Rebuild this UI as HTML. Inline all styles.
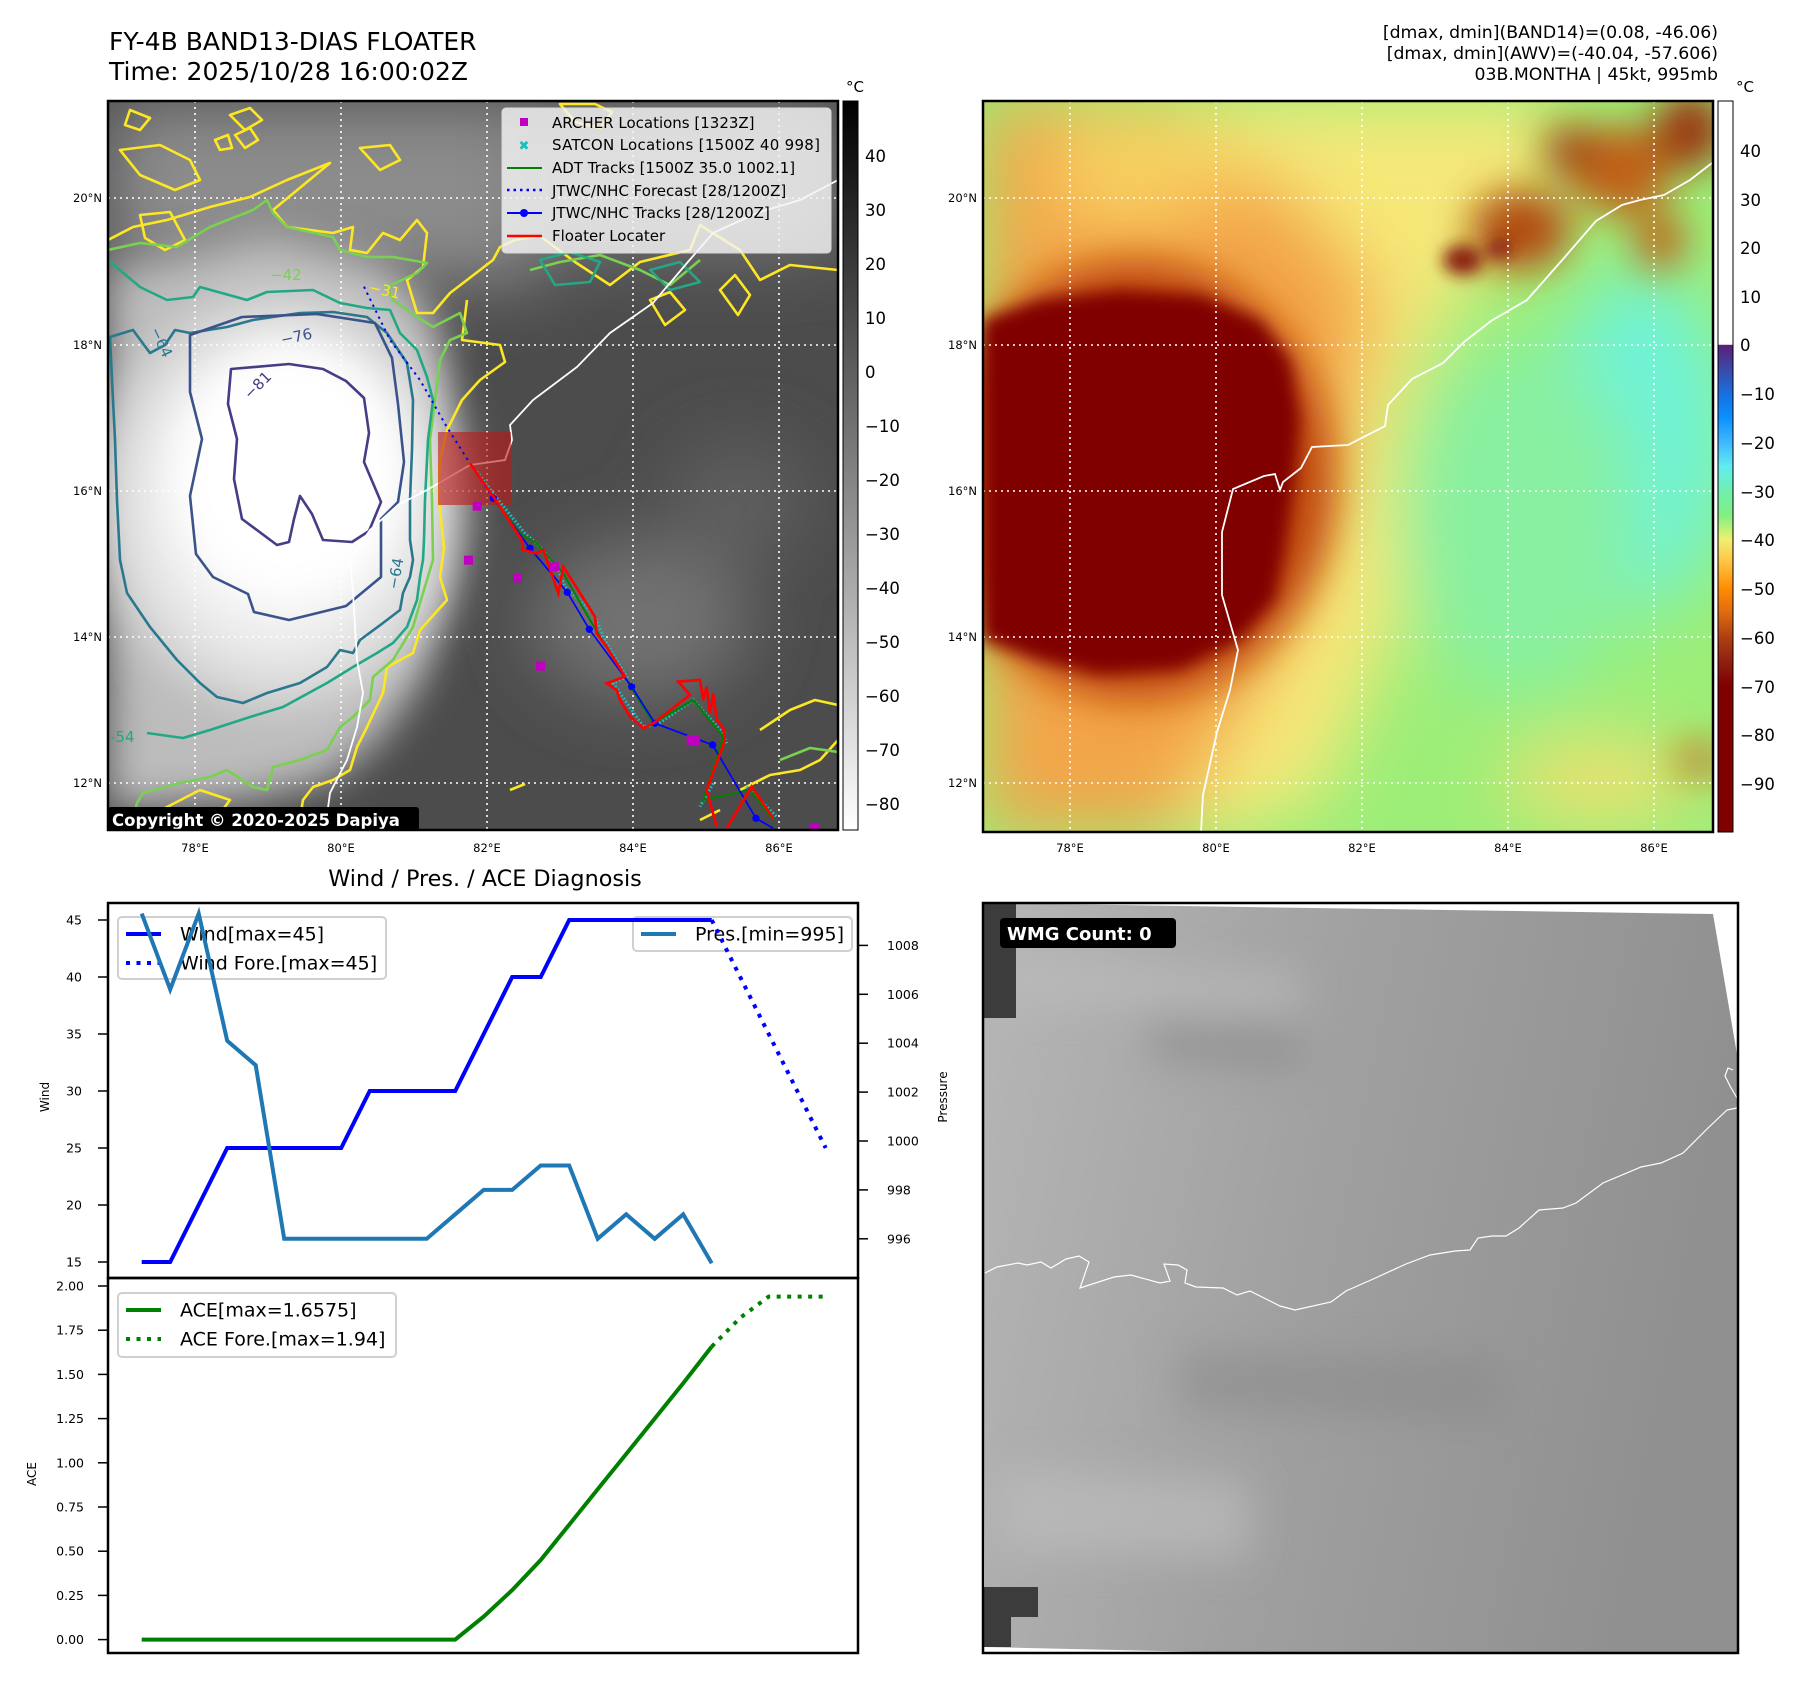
<!DOCTYPE html>
<html><head><meta charset="utf-8"><title>FY-4B BAND13 Floater</title>
<style>
html,body{margin:0;padding:0;background:#fff;}
svg{display:block;font-family:"DejaVu Sans","Liberation Sans",sans-serif;}
</style></head>
<body>
<svg id="fig" width="1801" height="1690" viewBox="0 0 1801 1690" xmlns="http://www.w3.org/2000/svg">
<defs>
  <filter id="b8" x="-20%" y="-20%" width="140%" height="140%"><feGaussianBlur stdDeviation="8"/></filter>
  <filter id="b20" x="-30%" y="-30%" width="160%" height="160%"><feGaussianBlur stdDeviation="20"/></filter>
  <filter id="b35" x="-40%" y="-40%" width="180%" height="180%"><feGaussianBlur stdDeviation="35"/></filter>
  <clipPath id="c1"><rect x="108" y="101" width="730" height="729"/></clipPath>
  <clipPath id="c2"><rect x="983" y="101" width="730" height="731"/></clipPath>
  <clipPath id="c3"><rect x="983" y="903" width="755" height="750"/></clipPath>
  <linearGradient id="cb1" x1="0" y1="1" x2="0" y2="0">
    <stop offset="0" stop-color="#ffffff"/><stop offset="1" stop-color="#000000"/>
  </linearGradient>
  <linearGradient id="cb2" x1="0" y1="0" x2="0" y2="1">
    <stop offset="0" stop-color="#ffffff"/><stop offset="0.333" stop-color="#ffffff"/>
    <stop offset="0.334" stop-color="#5a1e78"/>
    <stop offset="0.367" stop-color="#3a4aa8"/>
    <stop offset="0.400" stop-color="#1a6ee0"/>
    <stop offset="0.433" stop-color="#0a90ff"/>
    <stop offset="0.467" stop-color="#40b8ff"/>
    <stop offset="0.500" stop-color="#60ecf0"/>
    <stop offset="0.533" stop-color="#70f0b0"/>
    <stop offset="0.567" stop-color="#80f080"/>
    <stop offset="0.600" stop-color="#f0f070"/>
    <stop offset="0.633" stop-color="#ffc040"/>
    <stop offset="0.667" stop-color="#ff8c00"/>
    <stop offset="0.700" stop-color="#e06a10"/>
    <stop offset="0.733" stop-color="#b04010"/>
    <stop offset="0.767" stop-color="#902010"/>
    <stop offset="0.800" stop-color="#800000"/>
    <stop offset="1" stop-color="#800000"/>
  </linearGradient>
  <radialGradient id="cold" cx="0.5" cy="0.5" r="0.5">
    <stop offset="0" stop-color="#ffffff"/><stop offset="0.55" stop-color="#f2f2f2"/><stop offset="0.85" stop-color="#d8d8d8"/><stop offset="1" stop-color="#c0c0c0" stop-opacity="0"/>
  </radialGradient>
  <linearGradient id="g3" x1="0" y1="0" x2="1" y2="0.2">
    <stop offset="0" stop-color="#b6b6b6"/><stop offset="0.5" stop-color="#a0a0a0"/><stop offset="1" stop-color="#909090"/>
  </linearGradient>
</defs>

<!-- Titles -->
<text x="109" y="50" font-size="25">FY-4B BAND13-DIAS FLOATER</text>
<text x="109" y="80" font-size="25">Time: 2025/10/28 16:00:02Z</text>
<g font-size="17.3" text-anchor="end">
  <text x="1718" y="38">[dmax, dmin](BAND14)=(0.08, -46.06)</text>
  <text x="1718" y="59">[dmax, dmin](AWV)=(-40.04, -57.606)</text>
  <text x="1718" y="80">03B.MONTHA | 45kt, 995mb</text>
</g>

<!-- ============ MAP 1: IR grayscale ============ -->
<g>
<g clip-path="url(#c1)">
  <rect x="108" y="101" width="730" height="729" fill="#4c4c4c"/>
  <g filter="url(#b35)">
    <rect x="108" y="101" width="440" height="180" fill="#8c8c8c"/>
    <rect x="520" y="101" width="318" height="150" fill="#7a7a7a"/>
    <ellipse cx="640" cy="620" rx="110" ry="80" fill="#727272"/>
    <ellipse cx="740" cy="500" rx="70" ry="60" fill="#5e5e5e"/>
  </g>
  <path filter="url(#b20)" fill="#bcbcbc" d="M108,270 L210,250 L267,235 L333,250 L393,270 L430,310 L445,360 L440,430 L438,500 L440,600 L420,680 L380,740 L330,780 L250,800 L108,810 Z"/>
  <ellipse filter="url(#b20)" cx="280" cy="500" rx="200" ry="230" fill="url(#cold)"/>
  <ellipse filter="url(#b20)" cx="290" cy="470" rx="115" ry="125" fill="#ffffff"/>
  <!-- grid -->
  <g stroke="#fff" stroke-width="1.6" stroke-dasharray="2,4">
    <line x1="195" y1="101" x2="195" y2="830"/><line x1="341" y1="101" x2="341" y2="830"/>
    <line x1="487" y1="101" x2="487" y2="830"/><line x1="633" y1="101" x2="633" y2="830"/>
    <line x1="779" y1="101" x2="779" y2="830"/>
    <line x1="108" y1="198" x2="838" y2="198"/><line x1="108" y1="345" x2="838" y2="345"/>
    <line x1="108" y1="491" x2="838" y2="491"/><line x1="108" y1="637" x2="838" y2="637"/>
    <line x1="108" y1="783" x2="838" y2="783"/>
  </g>
  <!-- contours -->
  <g fill="none" stroke-width="2.6" stroke-linejoin="round">
    <path stroke="#fde725" d="M108,240 L133,227 L167,220 L210,207 L250,197 L287,180 L330,163 L273,210 L287,227 L333,233 L353,227 L350,250 L367,253 L383,233 L400,240 L417,220 L427,233 L423,267 L407,280 L417,313 L433,313 L450,293 L467,280 L493,260 L500,247 L515,240 L540,236 L575,262 L610,285 L640,262 L690,250 L700,225 L740,250 L760,280 L790,265 L838,270"/>
    <path stroke="#fde725" d="M467,300 L462,340 L500,345 L505,362 L480,380 L462,400 L447,430 L440,460 L438,490 L444,548 L440,577 L447,600 L420,630 L413,653 L387,667 L383,693 L367,727 L357,747 L350,770 L333,780 L313,787 L303,800 L298,830"/>
    <path stroke="#fde725" d="M130,110 L150,118 L140,130 L125,125 Z M230,115 L250,108 L262,120 L245,130 Z M560,104 L575,122 L600,128 L612,112 L595,104 Z M720,290 L735,275 L750,295 L738,315 Z M650,300 L670,292 L685,310 L665,325 Z M215,140 L228,135 L232,148 L220,150 Z M120,150 L160,145 L190,160 L200,180 L175,190 L140,175 Z M140,215 L170,212 L185,240 L165,250 L145,238 Z M235,135 L250,128 L258,140 L245,148 Z M360,148 L390,145 L400,160 L380,170 Z"/>
    <path stroke="#fde725" d="M740,790 L770,775 L800,770 L820,760 L838,740 M760,730 L790,710 L815,700 L838,705 M700,820 L720,810 M510,790 L525,784 M165,808 L200,790 L230,800 L215,820"/>
    <path stroke="#7ad151" d="M108,250 L140,243 L177,247 L210,227 L253,210 L267,200 L273,213 L287,227 L333,237 L340,250 L367,257 L393,257 L427,263 L417,273 L387,287 L393,300 L417,317 L433,327 L460,313 L467,333 L450,340 L440,360 L435,400 L430,440 L432,500 L433,560 L423,593 L413,627 L393,660 L373,677 L370,700 L353,717 L340,727 L327,750 L300,760 L273,767 L267,790 L253,787 L227,770 L210,777 L180,783 L143,793 L137,803 L130,830"/>
    <path stroke="#7ad151" d="M530,270 L560,262 L600,255 L640,270 L670,285 L700,260 M780,760 L810,748 L838,752"/>
    <path stroke="#22a884" d="M108,260 L140,287 L167,300 L193,297 L200,287 L247,300 L267,292 L313,290 L340,303 L367,308 L390,310 L400,333 L417,350 L427,377 L433,400 L428,440 L425,500 L424,540 L423,560 L420,577 L417,600 L407,627 L393,643 L377,653 L353,667 L327,683 L283,707 L250,717 L210,730 L183,738 L147,733"/>
    <path stroke="#22a884" d="M540,260 L570,252 L600,262 L590,282 L555,285 Z M650,270 L680,262 L700,282 L670,290 Z"/>
    <path stroke="#2a788e" d="M110,337 L133,330 L150,353 L165,345 L175,330 L190,333 L227,327 L253,320 L300,313 L333,312 L367,317 L387,333 L407,363 L413,400 L412,450 L410,500 L410,540 L413,560 L410,577 L403,593 L400,610 L383,623 L360,640 L353,653 L340,650 L327,667 L300,683 L267,693 L243,703 L217,697 L200,683 L177,660 L150,627 L127,593 L120,560 L117,500 L115,440 L112,380 Z"/>
    <path stroke="#3b528b" d="M190,335 L242,317 L317,314 L375,323 L392,358 L398,404 L404,462 L398,502 L381,519 L381,577 L346,606 L289,620 L254,612 L248,594 L213,577 L196,554 L190,496 L202,439 L190,392 Z"/>
    <path stroke="#433e85" d="M231,369 L289,364 L323,369 L346,381 L364,398 L369,433 L364,462 L381,502 L369,531 L352,542 L323,540 L312,514 L300,496 L294,519 L289,542 L277,545 L242,519 L234,479 L237,439 L228,404 Z"/>
  </g>
  <g font-size="15">
    <text x="368" y="292" fill="#fde725" transform="rotate(12 368 292)">−31</text>
    <text x="270" y="280" fill="#7ad151">−42</text>
    <text x="110" y="742" fill="#22a884">-54</text>
    <text x="150" y="330" fill="#2a788e" transform="rotate(65 150 330)">−64</text>
    <text x="398" y="590" fill="#2a788e" transform="rotate(-80 398 590)">−64</text>
    <text x="282" y="345" fill="#3b528b" transform="rotate(-12 282 345)">−76</text>
    <text x="250" y="400" fill="#433e85" transform="rotate(-45 250 400)">−81</text>
  </g>
  <!-- coastline -->
  <path fill="none" stroke="#fff" stroke-width="1.8" d="M325,830 L330,793 L347,760 L357,727 L363,693 L357,660 L353,593 L350,560 L370,530 L398,505 L427,490 L470,465 L505,460 L512,440 L510,425 L533,400 L577,367 L610,333 L653,303 L687,263 L713,233 L757,213 L800,200 L838,180"/>
  <!-- floater box -->
  <rect x="438" y="432" width="73" height="73" fill="#c01818" fill-opacity="0.6"/>
  <!-- tracks in zoomed coords -->
  <g transform="translate(440,400) scale(0.3333)">
    <path fill="none" stroke="#17c0c0" stroke-width="9" stroke-dasharray="5,6" d="M110,215 L175,300 L255,400 L300,440 L350,500 L375,560 L460,640 L500,730 L560,830 L520,850 L610,980 L650,975 L760,900 L850,1000 L860,1030 M820,1150 L780,1220 M920,1160 L1010,1250"/>
    <path fill="none" stroke="#008000" stroke-width="6" d="M160,295 L240,400 L290,430 L370,520 L450,660 L560,840 L640,970 L760,900 L850,1010 L790,1200 L930,1170 L1000,1260"/>
    <path fill="none" stroke="#0000ff" stroke-width="6" stroke-dasharray="7,13" d="M-228,-340 L-150,-180 L-60,-60 L20,80 L90,190 L160,295"/>
    <path fill="none" stroke="#0000ff" stroke-width="5" d="M160,295 L270,445 L382,577 L448,688 L575,860 L645,970 L818,1035 L948,1255 L1000,1285"/>
    <g fill="#0000ff">
      <circle cx="160" cy="295" r="11"/><circle cx="270" cy="445" r="11"/><circle cx="382" cy="577" r="11"/><circle cx="448" cy="688" r="11"/><circle cx="575" cy="860" r="11"/><circle cx="645" cy="970" r="11"/><circle cx="818" cy="1035" r="11"/><circle cx="948" cy="1255" r="11"/>
    </g>
    <path fill="none" stroke="#ff0000" stroke-width="8" stroke-linejoin="miter" d="M90,190 L160,290 L245,420 L250,450 L290,460 L310,450 L355,580 L370,500 L465,650 L470,700 L500,740 L555,830 L500,850 L530,870 L540,900 L570,950 L610,985 L640,970 L750,885 L715,845 L780,840 L790,900 L800,860 L810,940 L820,880 L830,960 L850,985 L855,1020 L800,1170 L830,1280 M860,1285 L935,1160 L1000,1255"/>
    <g fill="#c000c0">
      <rect x="98" y="305" width="27" height="27"/><rect x="72" y="467" width="27" height="27"/><rect x="219" y="520" width="27" height="27"/><rect x="330" y="487" width="27" height="27"/><rect x="288" y="785" width="27" height="27"/><rect x="740" y="1005" width="40" height="32"/><rect x="1110" y="1272" width="27" height="20"/>
    </g>
  </g>
  <!-- legend -->
  <g>
    <rect x="502" y="108" width="329" height="145" rx="4" fill="#f4f4f4" fill-opacity="0.82" stroke="#d8d8d8"/>
    <rect x="520" y="118" width="8" height="8" fill="#c000c0"/>
    <text x="524" y="150" font-size="13" font-weight="bold" fill="#17c0c0" text-anchor="middle">✖</text>
    <line x1="507" y1="168" x2="542" y2="168" stroke="#008000" stroke-width="2"/>
    <line x1="507" y1="190" x2="542" y2="190" stroke="#0000ff" stroke-width="2.5" stroke-dasharray="2.5,4"/>
    <line x1="507" y1="213" x2="542" y2="213" stroke="#0000ff" stroke-width="2"/><circle cx="524" cy="213" r="4" fill="#0000ff"/>
    <line x1="507" y1="236" x2="542" y2="236" stroke="#ff0000" stroke-width="2.5"/>
    <g font-size="15" fill="#000">
      <text x="552" y="128">ARCHER Locations [1323Z]</text>
      <text x="552" y="150" textLength="268">SATCON Locations [1500Z 40 998]</text>
      <text x="552" y="173">ADT Tracks [1500Z 35.0 1002.1]</text>
      <text x="552" y="196">JTWC/NHC Forecast [28/1200Z]</text>
      <text x="552" y="218">JTWC/NHC Tracks [28/1200Z]</text>
      <text x="552" y="241">Floater Locater</text>
    </g>
  </g>
  <g>
    <rect x="108" y="807" width="311" height="26" rx="3" fill="#000"/>
    <text x="112" y="826" font-size="16.5" font-weight="bold" fill="#fff">Copyright © 2020-2025 Dapiya</text>
  </g>
</g>
<rect x="108" y="101" width="730" height="729" fill="none" stroke="#000" stroke-width="2.5"/>
</g>
<g font-size="11.5">
  <g text-anchor="middle">
    <text x="195" y="852">78°E</text><text x="341" y="852">80°E</text><text x="487" y="852">82°E</text><text x="633" y="852">84°E</text><text x="779" y="852">86°E</text>
  </g>
  <g text-anchor="end">
    <text x="102" y="202">20°N</text><text x="102" y="349">18°N</text><text x="102" y="495">16°N</text><text x="102" y="641">14°N</text><text x="102" y="787">12°N</text>
  </g>
</g>
<!-- colorbar 1 -->
<g>
  <rect x="843" y="101" width="15" height="729" fill="url(#cb1)" stroke="#000" stroke-width="1"/>
  <text x="855" y="92" font-size="15" text-anchor="middle">°C</text>
  <g font-size="16.5">
    <text x="865" y="162">40</text><text x="865" y="216">30</text><text x="865" y="270">20</text><text x="865" y="324">10</text><text x="865" y="378">0</text>
    <text x="865" y="432">−10</text><text x="865" y="486">−20</text><text x="865" y="540">−30</text><text x="865" y="594">−40</text><text x="865" y="648">−50</text>
    <text x="865" y="702">−60</text><text x="865" y="756">−70</text><text x="865" y="810">−80</text>
  </g>
</g>

<!-- ============ MAP 2: AWV colour ============ -->
<g>
<g clip-path="url(#c2)">
  <rect x="983" y="101" width="730" height="731" fill="#9cee78"/>
  <g filter="url(#b35)">
    <ellipse cx="1640" cy="440" rx="90" ry="170" fill="#6ef3d8"/>
    <ellipse cx="1520" cy="520" rx="120" ry="180" fill="#88f0a0"/>
    <path fill="#f6e878" d="M983,101 L1560,101 L1560,200 L1470,280 L1420,360 L1390,470 L1400,620 L1320,800 L1230,832 L983,832 Z"/>
    <path fill="#f3a548" d="M983,101 L1180,101 L1300,200 L1380,290 L1360,380 L1330,480 L1300,600 L1240,720 L1170,832 L983,832 Z"/>
    <path fill="#f8d060" d="M1060,120 L1200,110 L1260,170 L1150,230 L1050,210 Z"/>
    <ellipse cx="1600" cy="780" rx="100" ry="40" fill="#f0e070"/>
  </g>
  <g filter="url(#b20)">
    <ellipse cx="1135" cy="480" rx="200" ry="220" fill="#c04a10"/>
    <ellipse cx="1520" cy="230" rx="50" ry="40" fill="#b04a10"/>
    <ellipse cx="1620" cy="170" rx="50" ry="45" fill="#c06018"/>
    <ellipse cx="1690" cy="130" rx="35" ry="40" fill="#9a3010"/>
    <ellipse cx="1570" cy="150" rx="25" ry="25" fill="#a03810"/>
    <ellipse cx="1660" cy="240" rx="25" ry="30" fill="#c06018"/>
    <ellipse cx="1700" cy="760" rx="25" ry="15" fill="#c06018"/>
  </g>
  <g filter="url(#b8)">
    <path fill="#800000" d="M983,320 L1040,300 L1120,290 L1200,295 L1260,320 L1290,360 L1300,420 L1295,480 L1285,550 L1275,600 L1240,640 L1180,670 L1100,675 L1040,660 L983,640 Z"/>
    <ellipse cx="1463" cy="260" rx="20" ry="15" fill="#8a1a08"/>
    <ellipse cx="1500" cy="248" rx="12" ry="10" fill="#8a1a08"/>
  </g>
  <g stroke="#fff" stroke-width="1.6" stroke-dasharray="2,4">
    <line x1="1070" y1="101" x2="1070" y2="832"/><line x1="1216" y1="101" x2="1216" y2="832"/>
    <line x1="1362" y1="101" x2="1362" y2="832"/><line x1="1508" y1="101" x2="1508" y2="832"/>
    <line x1="1654" y1="101" x2="1654" y2="832"/>
    <line x1="983" y1="198" x2="1713" y2="198"/><line x1="983" y1="345" x2="1713" y2="345"/>
    <line x1="983" y1="491" x2="1713" y2="491"/><line x1="983" y1="637" x2="1713" y2="637"/>
    <line x1="983" y1="783" x2="1713" y2="783"/>
  </g>
  <path fill="none" stroke="#fff" stroke-width="1.8" d="M1201,832 L1203,795 L1217,732 L1230,690 L1238,650 L1222,595 L1222,532 L1233,489 L1264,476 L1275,474 L1280,490 L1283,482 L1301,468 L1312,447 L1348,445 L1385,426 L1388,405 L1412,379 L1443,363 L1464,342 L1491,321 L1527,300 L1564,258 L1596,221 L1622,205 L1640,200 L1664,195 L1690,180 L1712,163"/>
</g>
<rect x="983" y="101" width="730" height="731" fill="none" stroke="#000" stroke-width="2.5"/>
</g>
<g font-size="11.5">
  <g text-anchor="middle">
    <text x="1070" y="852">78°E</text><text x="1216" y="852">80°E</text><text x="1362" y="852">82°E</text><text x="1508" y="852">84°E</text><text x="1654" y="852">86°E</text>
  </g>
  <g text-anchor="end">
    <text x="977" y="202">20°N</text><text x="977" y="349">18°N</text><text x="977" y="495">16°N</text><text x="977" y="641">14°N</text><text x="977" y="787">12°N</text>
  </g>
</g>
<g>
  <rect x="1718" y="101" width="15" height="731" fill="url(#cb2)" stroke="#000" stroke-width="1"/>
  <text x="1745" y="92" font-size="15" text-anchor="middle">°C</text>
  <g font-size="16.5">
    <text x="1740" y="157">40</text><text x="1740" y="206">30</text><text x="1740" y="254">20</text><text x="1740" y="303">10</text><text x="1740" y="351">0</text>
    <text x="1740" y="400">−10</text><text x="1740" y="449">−20</text><text x="1740" y="498">−30</text><text x="1740" y="546">−40</text><text x="1740" y="595">−50</text>
    <text x="1740" y="644">−60</text><text x="1740" y="693">−70</text><text x="1740" y="741">−80</text><text x="1740" y="790">−90</text>
  </g>
</g>

<!-- ============ MAP 3: WMG ============ -->
<g>
<g clip-path="url(#c3)">
  <rect x="983" y="903" width="755" height="750" fill="#fff"/>
  <path fill="url(#g3)" d="M983,903 L1713,914 L1738,1060 L1738,1664 L985,1647 Z"/>
  <g filter="url(#b20)" opacity="0.6">
    <path fill="#c0c0c0" d="M1000,960 L1300,975 L1300,1010 L1000,1000 Z"/>
    <path fill="#888" d="M1150,1020 L1300,1030 L1300,1070 L1150,1060 Z"/>
    <path fill="#c0c0c0" d="M1000,1470 L1250,1480 L1250,1560 L1000,1550 Z"/>
    <path fill="#8a8a8a" d="M1180,1350 L1500,1360 L1500,1420 L1180,1410 Z"/>
  </g>
  <rect x="983" y="903" width="33" height="115" fill="#3c3c3c"/>
  <rect x="983" y="1587" width="55" height="30" fill="#3c3c3c"/>
  <rect x="983" y="1617" width="28" height="30" fill="#3c3c3c"/>
  <path fill="none" stroke="#fff" stroke-width="1.2" d="M985,1273 L997,1267 L1018,1263 L1027,1265 L1041,1262 L1051,1268 L1066,1259 L1079,1256 L1089,1262 L1080,1288 L1114,1277 L1131,1275 L1160,1283 L1170,1281 L1164,1264 L1178,1265 L1187,1270 L1185,1283 L1196,1287 L1223,1288 L1237,1295 L1250,1291 L1280,1306 L1295,1310 L1331,1302 L1346,1291 L1371,1280 L1406,1264 L1430,1255 L1455,1251 L1470,1250 L1478,1238 L1492,1236 L1506,1236 L1519,1228 L1539,1210 L1563,1208 L1576,1203 L1603,1183 L1641,1167 L1661,1163 L1683,1153 L1707,1129 L1727,1110 L1737,1108"/>
  <path fill="none" stroke="#fff" stroke-width="1.2" d="M1737,1098 L1730,1086 L1725,1076 L1728,1068 L1733,1070"/>
  <g>
    <rect x="1000" y="918" width="176" height="30" rx="4" fill="#000"/>
    <text x="1007" y="940" font-size="18" font-weight="bold" fill="#fff">WMG Count: 0</text>
  </g>
</g>
<rect x="983" y="903" width="755" height="750" fill="none" stroke="#000" stroke-width="2.5"/>
</g>

<!-- ============ CHART ============ -->
<text x="485" y="886" font-size="22.3" text-anchor="middle">Wind / Pres. / ACE Diagnosis</text>
<g id="chart"></g>

<script>
// ---- data ----
const windObs = [15,15,20,25,25,25,25,25,30,30,30,30,35,40,40,45,45,45,45,45,45];
const windFcst = [45,40,35,30,25];          // indices 20..24
const presObs = [1009.3,1006.2,1009.3,1004.1,1003.1,996,996,996,996,996,996,997,998,998,999,999,996,997,996,997,995];
const aceObs = [0,0,0,0,0,0,0,0,0,0,0,0,0.13,0.28,0.45,0.65,0.85,1.05,1.25,1.45,1.6575];
const aceFcst = [1.6575,1.82,1.94,1.94,1.94]; // indices 20..24
const windTicks = [15,20,25,30,35,40,45];
const presTicks = [996,998,1000,1002,1004,1006,1008];
const aceTicks = [0,0.25,0.5,0.75,1.0,1.25,1.5,1.75,2.0];
const fcstStart = 20;

// ---- axes ----
const X0 = 108, X1 = 858, TOP = 903, MID = 1278, BOT = 1653;
const xs = i => 141.7 + i * 28.5;
const yWind = v => 920 + (45 - v) * 11.4;
const yPres = v => 945.4 + (1008 - v) * 24.45;
const yAce = v => 1639.6 - v * 176.8;

const NS = 'http://www.w3.org/2000/svg';
const chart = document.getElementById('chart');
function mk(tag, attrs, parent) {
  const el = document.createElementNS(NS, tag);
  for (const k in attrs) el.setAttribute(k, attrs[k]);
  (parent || chart).appendChild(el);
  return el;
}
function pathD(vals, yf, offset) {
  return vals.map((v, i) => (i ? 'L' : 'M') + xs(i + offset).toFixed(1) + ',' + yf(v).toFixed(1)).join(' ');
}

let el;
el = mk('rect', {x: X0, y: TOP, width: X1 - X0, height: MID - TOP, fill: 'none', stroke: '#000', 'stroke-width': 2.5});


el = mk('rect', {x: X0, y: MID, width: X1 - X0, height: BOT - MID, fill: 'none', stroke: '#000', 'stroke-width': 2.5});



windTicks.forEach(t => {
  const y = yWind(t);
  mk('line', {x1: X0 - 10, x2: X0, y1: y, y2: y, stroke: '#000', 'stroke-width': 1.5});
  el = mk('text', {x: 82, y: y + 4.5, 'font-size': 12.5, 'text-anchor': 'end'});
  el.textContent = t;
  
  
});
presTicks.forEach(t => {
  const y = yPres(t);
  mk('line', {x1: X1, x2: X1 + 10, y1: y, y2: y, stroke: '#000', 'stroke-width': 1.5});
  el = mk('text', {x: 887, y: y + 4.5, 'font-size': 12.5});
  el.textContent = t;
  
  
});
aceTicks.forEach(t => {
  const y = yAce(t);
  mk('line', {x1: X0 - 10, x2: X0, y1: y, y2: y, stroke: '#000', 'stroke-width': 1.5});
  el = mk('text', {x: 84, y: y + 4.5, 'font-size': 12.5, 'text-anchor': 'end'});
  el.textContent = t.toFixed(2);
  
  
});
el = mk('text', {x: 49, y: 1097, 'font-size': 12, 'text-anchor': 'middle', transform: 'rotate(-90 49 1097)'});
el.textContent = 'Wind';


el = mk('text', {x: 947, y: 1097, 'font-size': 12, 'text-anchor': 'middle', transform: 'rotate(-90 947 1097)'});
el.textContent = 'Pressure';


el = mk('text', {x: 36, y: 1474, 'font-size': 12, 'text-anchor': 'middle', transform: 'rotate(-90 36 1474)'});
el.textContent = 'ACE';



// legends (drawn before pressure line so the line passes over the wind legend as in reference)
function legend(x, y, w, h, items, name) {
  const g = mk('g', {});
  
  
  mk('rect', {x: x, y: y, width: w, height: h, rx: 4, fill: '#fff', 'fill-opacity': 0.8, stroke: '#d0d0d0', 'stroke-width': 2}, g);
  items.forEach((it, k) => {
    const cy = y + 17 + k * 29;
    const ln = mk('line', {x1: x + 8, x2: x + 43, y1: cy, y2: cy, stroke: it.c, 'stroke-width': 4}, g);
    if (it.dot) ln.setAttribute('stroke-dasharray', '4,6.5');
    const t = mk('text', {x: x + 62, y: cy + 6.5, 'font-size': 19}, g);
    t.textContent = it.t;
  });
}
legend(118, 917, 268, 62, [{c: '#0000ff', t: 'Wind[max=45]'}, {c: '#0000ff', t: 'Wind Fore.[max=45]', dot: true}], 'wind-legend');
legend(633, 917, 219, 34, [{c: '#1f77b4', t: 'Pres.[min=995]'}], 'pressure-legend');
legend(118, 1293, 278, 64, [{c: '#008000', t: 'ACE[max=1.6575]'}, {c: '#008000', t: 'ACE Fore.[max=1.94]', dot: true}], 'ace-legend');

el = mk('path', {d: pathD(windObs, yWind, 0), fill: 'none', stroke: '#0000ff', 'stroke-width': 4, 'stroke-linejoin': 'miter'});


el = mk('path', {d: pathD(windFcst, yWind, fcstStart), fill: 'none', stroke: '#0000ff', 'stroke-width': 4, 'stroke-dasharray': '4,6.5'});


el = mk('path', {d: pathD(presObs, yPres, 0), fill: 'none', stroke: '#1f77b4', 'stroke-width': 4, 'stroke-linejoin': 'miter'});


el = mk('path', {d: pathD(aceObs, yAce, 0), fill: 'none', stroke: '#008000', 'stroke-width': 4});


el = mk('path', {d: pathD(aceFcst, yAce, fcstStart), fill: 'none', stroke: '#008000', 'stroke-width': 4, 'stroke-dasharray': '4,6.5'});


</script>
</svg>
</body></html>
